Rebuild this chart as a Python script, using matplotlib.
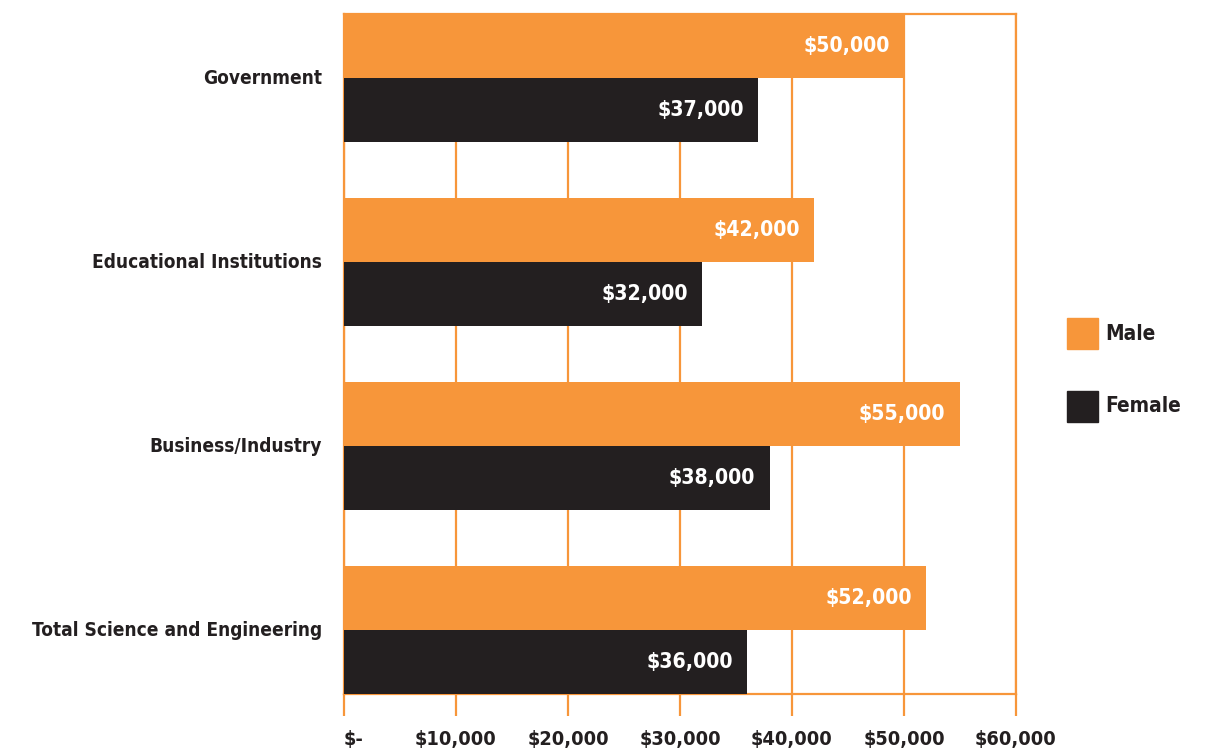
import matplotlib
matplotlib.use("Agg")
import matplotlib.pyplot as plt
from matplotlib.patches import Rectangle
from matplotlib import font_manager
from matplotlib.font_manager import FontProperties

categories = ["Government", "Educational Institutions", "Business/Industry", "Total Science and Engineering"]
male = [50000, 42000, 55000, 52000]
female = [37000, 32000, 38000, 36000]
xticks = [0, 10000, 20000, 30000, 40000, 50000, 60000]
xtick_labels = ["$-", "$10,000", "$20,000", "$30,000", "$40,000", "$50,000", "$60,000"]
series_names = ["Male", "Female"]

ORANGE = "#F7963A"
DARK = "#231F20"

# pick a condensed bold face if any installed
cond = None
for f in font_manager.fontManager.ttflist:
    if f.stretch in ("condensed", "semi-condensed", "extra-condensed", 600, 700) or "Condensed" in f.fname or "Narrow" in f.name:
        cond = f
        break
if cond is not None:
    base_fp = FontProperties(family=cond.name, stretch=cond.stretch, weight="bold")
else:
    base_fp = FontProperties(family="Roboto", weight="bold")
fam = base_fp.get_family()[0] if isinstance(base_fp.get_family(), list) else base_fp.get_family()
plt.rcParams['font.family'] = [fam, 'DejaVu Sans']

W, H = 1215, 749
fig = plt.figure(figsize=(W / 100, H / 100), dpi=100)
renderer = fig.canvas.get_renderer()


def fit_size(sample, target_px, nominal=15):
    t = fig.text(0, 0, sample, fontproperties=base_fp, fontsize=nominal)
    w = t.get_window_extent(renderer=renderer).width
    t.remove()
    return nominal * target_px / w


cat_fs = fit_size("Total Science and Engineering", 292)
val_fs = fit_size("$50,000", 86)
tick_fs = fit_size("$10,000", 81)
leg_fs = fit_size("Female", 76)


def fp(size):
    p = base_fp.copy()
    p.set_size(size)
    return p


ax = fig.add_axes([344 / W, 1 - 694 / H, (1016 - 344) / W, (694 - 14) / H])

spacing = 184 / 64
male_pos = [0.5 + spacing * i for i in range(len(categories))]
female_pos = [1.5 + spacing * i for i in range(len(categories))]
ax.barh(male_pos, male, height=1.0, color=ORANGE, zorder=3)
ax.barh(female_pos, female, height=1.0, color=DARK, zorder=3)

for y, v in zip(male_pos, male):
    ax.text(v - 1300, y, f"${v:,}", ha="right", va="center", color="white",
            fontproperties=fp(val_fs), zorder=4)
for y, v in zip(female_pos, female):
    ax.text(v - 1300, y, f"${v:,}", ha="right", va="center", color="white",
            fontproperties=fp(val_fs), zorder=4)

ax.set_xlim(0, 60000)
ax.set_ylim(10.625, 0)
ax.set_xticks(xticks)
ax.set_xticklabels(xtick_labels, fontproperties=fp(tick_fs), color=DARK)
ax.xaxis.get_ticklabels()[0].set_horizontalalignment("left")
ax.tick_params(axis="x", direction="out", length=16, width=1.6, color=ORANGE, pad=10)
ax.set_yticks([0.97 + spacing * i for i in range(len(categories))])
ax.set_yticklabels(categories, fontproperties=fp(cat_fs), color=DARK)
ax.tick_params(axis="y", length=0, pad=16)
ax.grid(axis="x", color=ORANGE, linewidth=1.6, zorder=1)
ax.set_axisbelow(True)
for s in ax.spines.values():
    s.set_color(ORANGE)
    s.set_linewidth(1.6)
    s.set_zorder(2)

# legend
leg_colors = [ORANGE, DARK]
leg_tops = [318, 391]
for name, c, top in zip(series_names, leg_colors, leg_tops):
    fig.add_artist(Rectangle((1067 / W, 1 - (top + 31) / H), 31 / W, 31 / H,
                             transform=fig.transFigure, color=c))
    fig.text(1105 / W, 1 - (top + 15.5) / H, name, ha="left", va="center",
             fontproperties=fp(leg_fs), color=DARK)

fig.savefig("out.png", dpi=100)
